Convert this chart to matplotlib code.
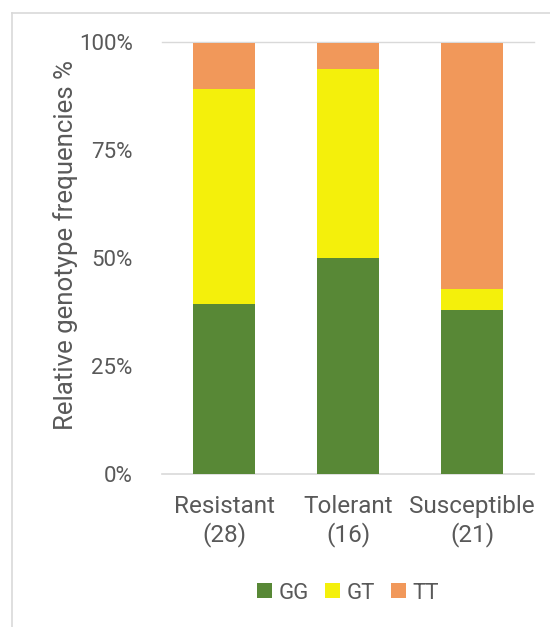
import matplotlib.pyplot as plt
import numpy as np

# données
groups = ['Resistant\n(28)', 'Tolerant\n(16)', 'Susceptible\n(21)']
gg = [39.3, 50.0, 38.1]
gt = [50.0, 43.75, 4.8]
tt = [10.7, 6.25, 57.1]
yticks = [0, 25, 50, 75, 100]
ytick_labels = ['0%', '25%', '50%', '75%', '100%']

colors = {'GG': '#588836', 'GT': '#F4F00B', 'TT': '#F1985A'}
txt = '#595959'

plt.rcParams['font.family'] = ['Roboto', 'DejaVu Sans']

fig = plt.figure(figsize=(5.5, 6.27), dpi=100)
ax = fig.add_axes([162/550, 153/627, 372/550, 431.5/627])

x = np.arange(len(groups))
w = 0.5
ax.bar(x, gg, w, color=colors['GG'], label='GG', zorder=3)
ax.bar(x, gt, w, bottom=gg, color=colors['GT'], label='GT', zorder=3)
ax.bar(x, tt, w, bottom=np.array(gg) + np.array(gt), color=colors['TT'], label='TT', zorder=3)

ax.set_xlim(-0.5, 2.5)
ax.set_ylim(0, 100)
ax.set_yticks(yticks)
ax.set_yticklabels(ytick_labels)
ax.set_xticks(x)
ax.set_xticklabels(groups)
ax.tick_params(axis='y', length=0, pad=21, labelsize=16, labelcolor=txt)
ax.tick_params(axis='x', length=0, pad=15, labelsize=17.5, labelcolor=txt)

for s in ['left', 'right', 'top']:
    ax.spines[s].set_visible(False)
ax.spines['bottom'].set_color('#d9d9d9')
ax.spines['bottom'].set_linewidth(1.2)
ax.axhline(100, color='#d9d9d9', lw=1, zorder=1, clip_on=False)

ax.set_ylabel('Relative genotype frequencies %', fontsize=18.6, color=txt)
ax.yaxis.set_label_coords(-0.226, 0.53)

ax.legend(loc='center', bbox_to_anchor=(0.5, -0.276), ncol=3, frameon=False,
          fontsize=16, handlelength=0.65, handleheight=0.65, handletextpad=0.3,
          columnspacing=0.75, labelcolor=txt)

# cadre gris autour du graphique
fig.add_artist(plt.Line2D([12/550, 12/550], [0, 1 - 13/627], color='#d9d9d9', lw=1.2))
fig.add_artist(plt.Line2D([12/550, 1], [1 - 13/627, 1 - 13/627], color='#d9d9d9', lw=1.2))

plt.savefig('out.png', dpi=100)
